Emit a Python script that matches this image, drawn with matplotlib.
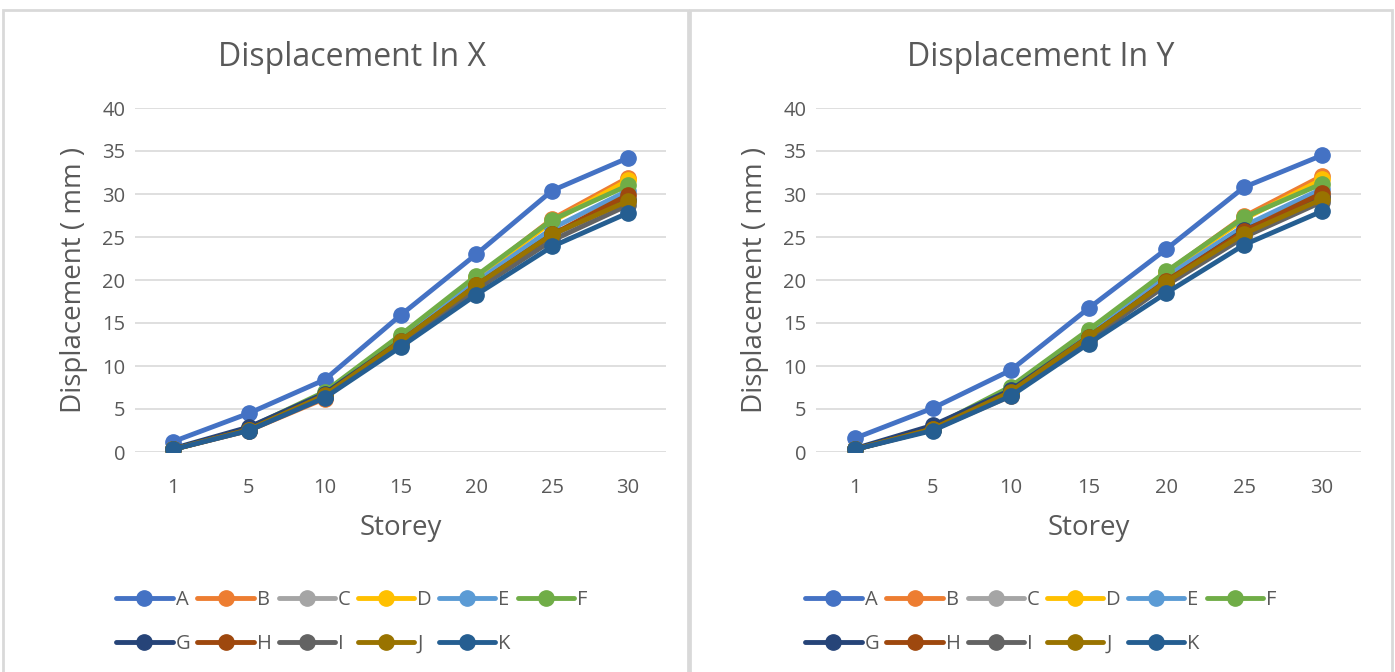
import matplotlib
matplotlib.use('Agg')
import matplotlib.pyplot as plt
from matplotlib.patches import Rectangle

plt.rcParams['font.family'] = ['Open Sans', 'DejaVu Sans']

# data
storeys = ['1', '5', '10', '15', '20', '25', '30']
series_names = ['A', 'B', 'C', 'D', 'E', 'F', 'G', 'H', 'I', 'J', 'K']
colors = ['#4472C4', '#ED7D31', '#A5A5A5', '#FFC000', '#5B9BD5', '#70AD47',
          '#264478', '#9E480E', '#636363', '#997300', '#255E91']

disp_x_A = [1.2, 4.5, 8.4, 15.9, 23.0, 30.4, 34.2]
disp_x_B = [0.3, 2.5, 6.2, 13.4, 20.3, 27.1, 31.9]
disp_x_C = [0.3, 2.6, 6.5, 12.8, 19.3, 25.0, 29.4]
disp_x_D = [0.3, 2.6, 6.6, 13.3, 20.2, 26.8, 31.6]
disp_x_E = [0.3, 2.7, 6.7, 13.1, 19.8, 26.0, 30.4]
disp_x_F = [0.3, 2.8, 7.0, 13.6, 20.5, 27.0, 31.0]
disp_x_G = [0.4, 2.9, 6.8, 12.9, 19.3, 25.3, 29.3]
disp_x_H = [0.3, 2.6, 6.4, 12.8, 19.4, 25.3, 29.9]
disp_x_I = [0.3, 2.5, 6.4, 12.5, 18.9, 24.6, 28.7]
disp_x_J = [0.3, 2.6, 6.6, 12.9, 19.4, 25.3, 29.2]
disp_x_K = [0.3, 2.5, 6.3, 12.2, 18.3, 23.9, 27.8]

disp_y_A = [1.6, 5.1, 9.5, 16.7, 23.6, 30.8, 34.5]
disp_y_B = [0.3, 2.6, 6.5, 14.0, 20.9, 27.4, 32.1]
disp_y_C = [0.3, 2.7, 6.9, 13.3, 19.8, 25.5, 29.8]
disp_y_D = [0.3, 2.7, 7.0, 13.8, 20.8, 27.1, 31.7]
disp_y_E = [0.3, 2.8, 7.2, 13.7, 20.4, 26.3, 30.6]
disp_y_F = [0.3, 2.9, 7.6, 14.2, 21.0, 27.3, 31.2]
disp_y_G = [0.4, 3.1, 7.2, 13.4, 19.8, 25.8, 29.6]
disp_y_H = [0.3, 2.7, 6.8, 13.3, 19.9, 25.7, 30.1]
disp_y_I = [0.3, 2.6, 6.7, 13.0, 19.4, 25.0, 29.1]
disp_y_J = [0.3, 2.7, 7.0, 13.4, 19.8, 25.4, 29.4]
disp_y_K = [0.3, 2.5, 6.5, 12.6, 18.5, 24.1, 28.0]

data_x = [disp_x_A, disp_x_B, disp_x_C, disp_x_D, disp_x_E, disp_x_F,
          disp_x_G, disp_x_H, disp_x_I, disp_x_J, disp_x_K]
data_y = [disp_y_A, disp_y_B, disp_y_C, disp_y_D, disp_y_E, disp_y_F,
          disp_y_G, disp_y_H, disp_y_I, disp_y_J, disp_y_K]

W, H = 1395, 672
fig = plt.figure(figsize=(W / 100, H / 100), dpi=100)

text_col = '#595959'
grid_col = '#D9D9D9'

# chart area borders (Excel-style)
for x0, x1 in [(3, 688), (690, 1392)]:
    fig.patches.append(Rectangle((x0 / W, -0.01), (x1 - x0) / W, (H - 10) / H + 0.01,
                                 transform=fig.transFigure, fill=False,
                                 edgecolor=grid_col, lw=2))


def draw_panel(rect, data, title, center_x):
    ax = fig.add_axes(rect)
    for vals, name, c in zip(data, series_names, colors):
        ax.plot(storeys, vals, color=c, lw=3.5, marker='o', markersize=11,
                label=name, solid_capstyle='round')
    ax.set_xlim(-0.5, 6.5)
    ax.set_ylim(0, 40)
    ax.set_yticks(range(0, 41, 5))
    ax.grid(axis='y', color=grid_col, lw=1.2)
    ax.set_axisbelow(True)
    for s in ax.spines.values():
        s.set_visible(False)
    ax.tick_params(length=0, labelsize=14.5, labelcolor=text_col)
    ax.tick_params(axis='x', pad=19)
    ax.tick_params(axis='y', pad=7)
    ax.set_xlabel('Storey', fontsize=20, color=text_col, labelpad=11)
    ax.set_ylabel('Displacement ( mm )', fontsize=20, color=text_col, labelpad=10)
    fig.text(center_x / W, 1 - 57 / H, title, fontsize=23, color=text_col,
             ha='center', va='center')

    handles, labels = ax.get_legend_handles_labels()
    order = [0, 6, 1, 7, 2, 8, 3, 9, 4, 10, 5]
    ax.legend([handles[i] for i in order], [labels[i] for i in order],
              ncol=6, loc='center', bbox_to_anchor=(center_x / W, 1 - 622 / H),
              bbox_transform=fig.transFigure,
              frameon=False, fontsize=14.5, labelcolor=text_col,
              handlelength=2.8, handletextpad=0.15, columnspacing=0.35,
              labelspacing=1.15, borderpad=0)
    return ax


draw_panel([135 / W, 220 / H, 531 / W, 344 / H], data_x, 'Displacement In X', 352)
draw_panel([816 / W, 220 / H, 545 / W, 344 / H], data_y, 'Displacement In Y', 1041)

fig.savefig('out.png', dpi=100, facecolor='white')
